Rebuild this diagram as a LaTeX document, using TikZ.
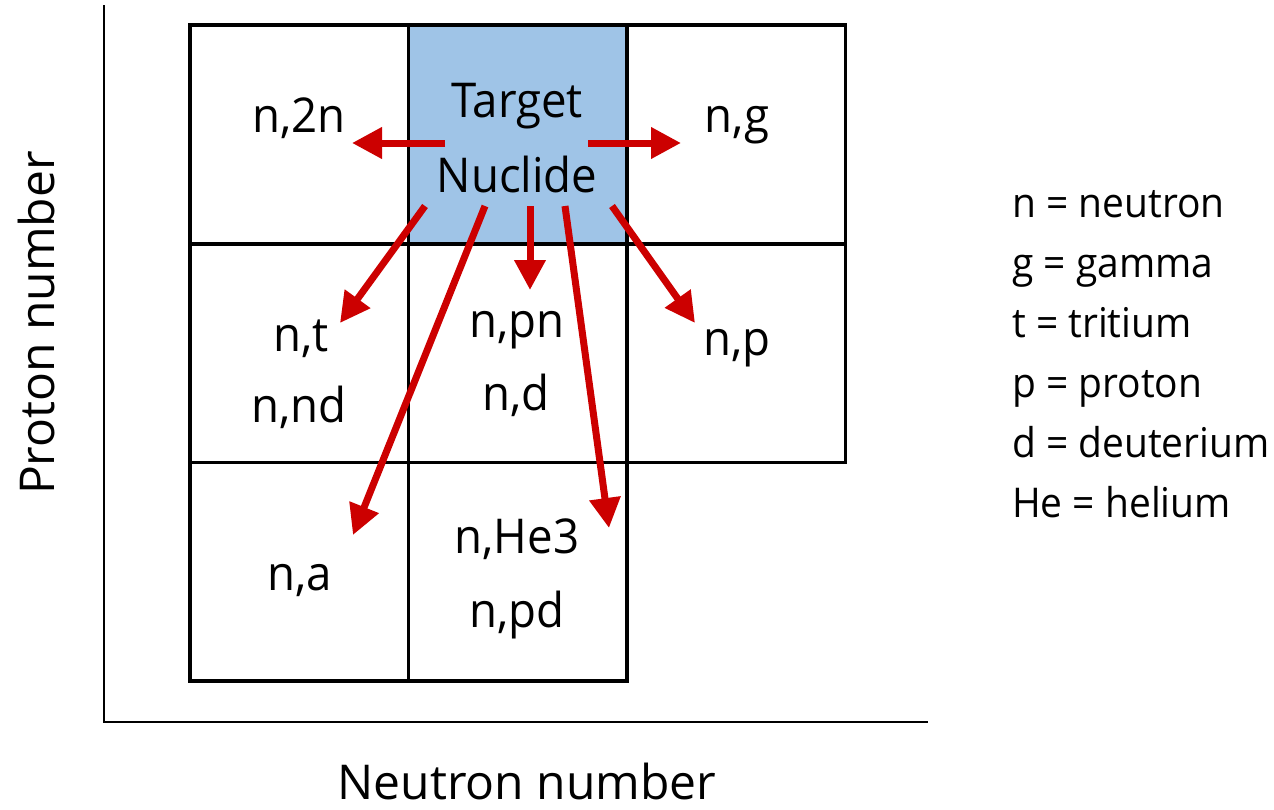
\documentclass[tikz,border=0pt]{standalone}
\usepackage{fontspec}
\setmainfont{Open Sans}
\newfontfamily\narrowsans[FakeStretch=0.95]{Open Sans}
\usetikzlibrary{arrows.meta}
\definecolor{cellblue}{RGB}{159,196,231}
\definecolor{arrowred}{RGB}{204,0,0}
\tikzset{
  cell/.style={draw=black, line width=3.5pt, minimum width=218.5pt, minimum height=218.5pt, inner sep=0pt},
  lbl/.style={font=\narrowsans\fontsize{48}{48}\selectfont, inner sep=0pt, anchor=base},
  legend/.style={font=\narrowsans\fontsize{41}{41}\selectfont, inner sep=0pt, anchor=base west},
  axislbl/.style={font=\fontsize{48}{48}\selectfont, inner sep=0pt, anchor=base},
  react/.style={draw=arrowred, line width=7pt, -{Triangle[length=30pt,width=30pt]}},
  axis/.style={draw=black, line width=2pt}
}
\begin{document}
\begin{tikzpicture}[x=1pt,y=-1pt]
\useasboundingbox (0,0) rectangle (1274,809);
% axes
\coordinate (ytop) at (104,5);
\coordinate (origin) at (104,722);
\coordinate (xend) at (928,722);
\draw[axis] (ytop) -- (origin) -- (xend);

% grid of cells
\node[cell, fill=cellblue] (target) at (517.5,134) {};
\node[cell] (c2n) at (299,134) {};
\node[cell] (cg) at (736,134) {};
\node[cell] (ct) at (299,353) {};
\node[cell] (cpn) at (517.5,353) {};
\node[cell] (cp) at (736,353) {};
\node[cell] (ca) at (299,571.5) {};
\node[cell] (che) at (517.5,571.5) {};

% labels (placed on their baselines)
\node[lbl] (t1) at (517,117) {Target};
\node[lbl] (t2) at (517,192) {Nuclide};
\node[lbl] (l2n) at (299,132) {n,2n};
\node[lbl] (lg) at (737,132) {n,g};
\node[lbl] (lt) at (301,351) {n,t};
\node[lbl] (lnd) at (299,422) {n,nd};
\node[lbl] (lpn) at (517,337) {n,pn};
\node[lbl] (ld) at (516,410) {n,d};
\node[lbl] (lp) at (737,355) {n,p};
\node[lbl] (la) at (300,590) {n,a};
\node[lbl] (lhe) at (517,553) {n,He3};
\node[lbl] (lpd) at (517,627) {n,pd};

% reaction arrows
\coordinate (s1) at (445,143); \coordinate (e1) at (352,143);
\coordinate (s2) at (588,143); \coordinate (e2) at (681,143);
\coordinate (s3) at (425,206); \coordinate (e3) at (340,323);
\coordinate (s4) at (485,206); \coordinate (e4) at (353,535);
\coordinate (s5) at (530,206); \coordinate (e5) at (530,290);
\coordinate (s6) at (565,206); \coordinate (e6) at (609,528);
\coordinate (s7) at (612,206); \coordinate (e7) at (695,323);
\foreach \i in {1,...,7} \draw[react] (s\i) -- (e\i);

% axis titles
\node[axislbl, rotate=90] (ylab) at (54,323) {Proton number};
\node[axislbl] (xlab) at (527,799) {Neutron number};

% legend
\node[legend] (k1) at (1012,217) {n = neutron};
\node[legend] (k2) at (1012,277) {g = gamma};
\node[legend] (k3) at (1012,337) {t = tritium};
\node[legend] (k4) at (1012,397) {p = proton};
\node[legend] (k5) at (1012,457) {d = deuterium};
\node[legend] (k6) at (1012,517) {He = helium};
\end{tikzpicture}
\end{document}
